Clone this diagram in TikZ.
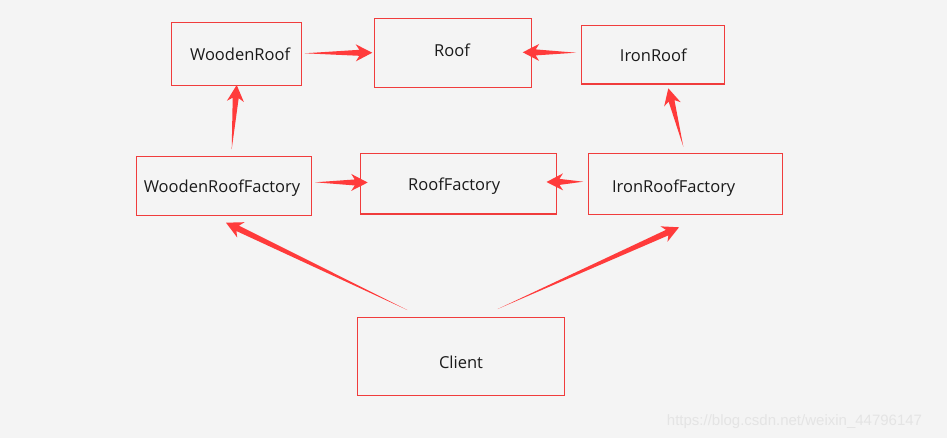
\documentclass[tikz,border=0pt]{standalone}
\usepackage{fontspec}
\setmainfont{Open Sans}
\newfontfamily\wmfont{Liberation Sans}
\usetikzlibrary{calc}
\definecolor{bg}{HTML}{F4F4F4}
\definecolor{boxred}{HTML}{F03C3C}
\definecolor{arrred}{HTML}{FF3B3B}
\definecolor{txt}{HTML}{1A1A1A}
\definecolor{wmcol}{HTML}{E4E4E4}
\tikzset{
  box/.style={draw=boxred, line width=1.1pt, fill=none, inner sep=0pt},
  lbl/.style={anchor=base, inner sep=0pt, text=txt, font=\fontsize{16.5}{18}\selectfont},
}
\newcommand\taper[2]{%
  \path (#2) coordinate (tp) ($(#2)!16.5pt!(#1)$) coordinate (hb) ($(#2)!13pt!(#1)$) coordinate (hj);
  \fill[arrred] (#1) -- ($(hj)!3pt!90:(tp)$) -- ($(hb)!8.5pt!90:(tp)$) -- (tp)
    -- ($(hb)!8.5pt!-90:(tp)$) -- ($(hj)!3pt!-90:(tp)$) -- cycle;}
\begin{document}
\begin{tikzpicture}[x=1pt,y=-1pt]
\fill[bg] (0,0) rectangle (947,438);
\useasboundingbox (0,0) rectangle (947,438);
% boxes
\node[box, minimum width=130pt, minimum height=63pt] (wr) at (236.5,53.8) {};
\node[box, minimum width=157pt, minimum height=69pt] (r) at (452.7,52.8) {};
\node[box, minimum width=143pt, minimum height=58.7pt] (ir) at (652.8,54.7) {};
\node[box, minimum width=175.3pt, minimum height=59pt] (wrf) at (223.7,185.8) {};
\node[box, minimum width=196.4pt, minimum height=60.7pt] (rf) at (458.5,183.7) {};
\node[box, minimum width=194.4pt, minimum height=61pt] (irf) at (685.5,183.8) {};
\node[box, minimum width=207pt, minimum height=78pt] (cl) at (460.8,356.3) {};
% labels
\node[lbl] (twr) at (240.1,60.7) {WoodenRoof};
\node[lbl] (tr) at (452,56.7) {Roof};
\node[lbl] (tir) at (653.3,61.7) {IronRoof};
\node[lbl] (twrf) at (222,192.7) {WoodenRoofFactory};
\node[lbl] (trf) at (454.2,190.7) {RoofFactory};
\node[lbl] (tirf) at (673.7,192.3) {IronRoofFactory};
\node[lbl] (tcl) at (461,368.3) {Client};
% arrow ends
\coordinate (a1t) at (304.5,53.3); \coordinate (a1h) at (372.3,52.7);
\coordinate (a2t) at (576,52.7);   \coordinate (a2h) at (522.7,52.3);
\coordinate (a3t) at (231.7,149.3); \coordinate (a3h) at (236.7,85);
\coordinate (a4t) at (683.3,146.7); \coordinate (a4h) at (668.3,88.3);
\coordinate (a5t) at (315,182.3);  \coordinate (a5h) at (367.7,182.5);
\coordinate (a6t) at (583.3,181.7); \coordinate (a6h) at (546.5,182);
\coordinate (a7t) at (407.3,310);  \coordinate (a7h) at (226,222.7);
\coordinate (a8t) at (497.7,309);  \coordinate (a8h) at (679,227.3);
\taper{a1t}{a1h}
\taper{a2t}{a2h}
\taper{a3t}{a3h}
\taper{a4t}{a4h}
\taper{a5t}{a5h}
\taper{a6t}{a6h}
\taper{a7t}{a7h}
\taper{a8t}{a8h}
% watermark
\node[anchor=base west, inner sep=0pt, text=wmcol, font=\wmfont\fontsize{15}{17}\selectfont] (wm) at (666.7,425) {https://blog.csdn.net/weixin\_44796147};
\end{tikzpicture}
\end{document}
